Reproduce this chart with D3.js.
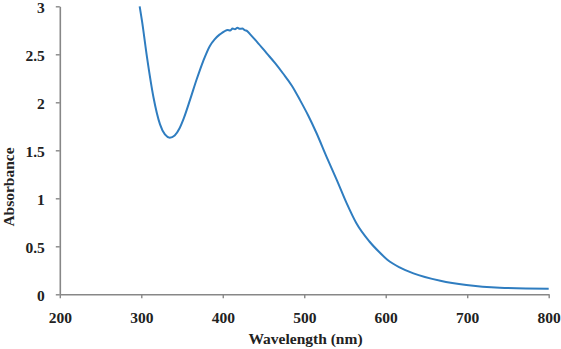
<!DOCTYPE html>
<html>
<head>
<meta charset="utf-8">
<title>Absorbance spectrum</title>
<script src="https://d3js.org/d3.v7.min.js"></script>
<style>
  body { margin: 0; background: #fff; }
  svg text { font-family: "Liberation Serif", "Times New Roman", serif; font-weight: bold; fill: #222; }
</style>
</head>
<body>
<svg width="561" height="349"></svg>
<script>
// wavelength (nm) and absorbance
var wavelength = [298, 301, 307, 315, 323, 329, 335, 341, 347, 352, 360, 368, 376, 384, 390, 396, 400,
                  403, 406, 409, 412, 415, 418, 421, 424, 427, 430, 434, 442, 454, 464, 474, 485, 495,
                  505, 515, 527, 540, 552, 564, 580, 592, 602, 617, 634, 667, 699, 740, 800];
var absorbance = [3.0, 2.84, 2.47, 2.05, 1.77, 1.665, 1.632, 1.655, 1.73, 1.83, 2.03, 2.24, 2.43, 2.585, 2.655, 2.705, 2.728,
                  2.745, 2.752, 2.748, 2.768, 2.762, 2.776, 2.766, 2.768, 2.752, 2.742, 2.705, 2.63, 2.51, 2.41, 2.3, 2.17, 2.02,
                  1.86, 1.68, 1.44, 1.19, 0.95, 0.74, 0.55, 0.44, 0.36, 0.28, 0.218, 0.141, 0.096, 0.068, 0.058];
var xTicks = [200, 300, 400, 500, 600, 700, 800];
var yTicks = [0, 0.5, 1, 1.5, 2, 2.5, 3];

var data = wavelength.map(function(w, i) { return {x: w, y: absorbance[i]}; });

var svg = d3.select("svg");

var x = d3.scaleLinear().domain([200, 800]).range([59.8, 548.7]);
var y = d3.scaleLinear().domain([0, 3]).range([294.3, 6.3]);

var axisColor = "#878787";

// x axis
var gx = svg.append("g")
    .attr("transform", "translate(0," + y(0) + ")")
    .call(d3.axisBottom(x).tickValues(xTicks).tickSizeInner(4).tickSizeOuter(0).tickPadding(10));

// y axis
var gy = svg.append("g")
    .attr("transform", "translate(" + x(200) + ",0)")
    .call(d3.axisLeft(y).tickValues(yTicks).tickSizeInner(4).tickSizeOuter(0).tickPadding(11)
        .tickFormat(function(d) { return String(d); }));

[gx, gy].forEach(function(g) {
    g.selectAll("path.domain").attr("stroke", axisColor).attr("stroke-width", 1.6);
    g.selectAll(".tick line").attr("stroke", axisColor).attr("stroke-width", 1.4);
    g.selectAll(".tick text")
        .attr("fill", "#222")
        .style("font-family", "'Liberation Serif', 'Times New Roman', serif")
        .style("font-weight", "bold")
        .style("font-size", "15.5px");
});
gx.selectAll(".tick text").attr("dy", "0.95em");
gy.selectAll(".tick text").attr("dy", "0.38em");

// curve
var line = d3.line()
    .x(function(d) { return x(d.x); })
    .y(function(d) { return y(d.y); })
    .curve(d3.curveMonotoneX);

svg.append("path")
    .datum(data)
    .attr("d", line)
    .attr("fill", "none")
    .attr("stroke", "#2f7dc0")
    .attr("stroke-width", 2);

// axis titles
svg.append("text")
    .attr("x", 305.5)
    .attr("y", 344)
    .attr("text-anchor", "middle")
    .style("font-size", "15.5px")
    .text("Wavelength (nm)");

svg.append("text")
    .attr("transform", "translate(14,187) rotate(-90)")
    .attr("text-anchor", "middle")
    .style("font-size", "15.5px")
    .text("Absorbance");
</script>
</body>
</html>
